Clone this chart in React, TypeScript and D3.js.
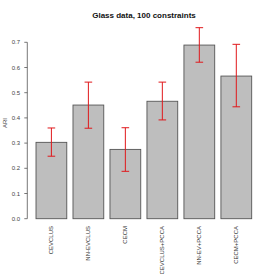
import { useEffect, useRef } from "react";
import * as d3 from "d3";

const categories = ["CEVCLUS", "NN-EVCLUS", "CECM", "CEVCLUS+PCCA", "NN-EV+PCCA", "CECM+PCCA"];
const means = [0.303, 0.451, 0.275, 0.466, 0.689, 0.566];
const lower = [0.248, 0.359, 0.188, 0.392, 0.621, 0.444];
const upper = [0.36, 0.542, 0.361, 0.542, 0.758, 0.692];
const yTicks = [0, 0.1, 0.2, 0.3, 0.4, 0.5, 0.6, 0.7];

export default function App() {
  const svgRef = useRef<SVGSVGElement>(null);
  const width = 274;
  const height = 274;

  useEffect(() => {
    if (!svgRef.current) return;
    const svg = d3.select(svgRef.current);
    svg.selectAll("*").remove();

    const font = "'Liberation Sans', Arial, sans-serif";

    const x = d3
      .scaleBand<string>()
      .domain(categories)
      .range([32.9, 254.8])
      .paddingInner(0.168)
      .paddingOuter(0.084);
    const y = d3.scaleLinear().domain([0, 0.7]).range([218.7, 42.3]);

    // Title
    svg
      .append("text")
      .attr("x", 144)
      .attr("y", 17.5)
      .attr("text-anchor", "middle")
      .attr("font-family", font)
      .attr("font-weight", "bold")
      .attr("font-size", 8)
      .attr("fill", "#111")
      .text("Glass data, 100 constraints");

    // Y axis
    const axisX = 27.3;
    svg
      .append("line")
      .attr("x1", axisX)
      .attr("x2", axisX)
      .attr("y1", y(0))
      .attr("y2", y(0.7))
      .attr("stroke", "#555")
      .attr("stroke-width", 0.8);

    const tick = svg.append("g").selectAll("g").data(yTicks).join("g");
    tick
      .append("line")
      .attr("x1", axisX - 3)
      .attr("x2", axisX)
      .attr("y1", (d) => y(d))
      .attr("y2", (d) => y(d))
      .attr("stroke", "#555")
      .attr("stroke-width", 0.8);
    tick
      .append("text")
      .attr("x", 20)
      .attr("y", (d) => y(d))
      .attr("dy", "0.35em")
      .attr("text-anchor", "end")
      .attr("font-family", font)
      .attr("font-size", 6)
      .attr("fill", "#444")
      .text((d) => d.toFixed(1));

    // Y axis title
    svg
      .append("text")
      .attr("transform", `translate(7,123) rotate(-90)`)
      .attr("text-anchor", "middle")
      .attr("font-family", font)
      .attr("font-size", 6)
      .attr("fill", "#444")
      .text("ARI");

    // Bars
    svg
      .append("g")
      .selectAll("rect")
      .data(categories)
      .join("rect")
      .attr("x", (d) => x(d)!)
      .attr("y", (_, i) => y(means[i]))
      .attr("width", x.bandwidth())
      .attr("height", (_, i) => y(0) - y(means[i]))
      .attr("fill", "#bebebe")
      .attr("stroke", "#555")
      .attr("stroke-width", 0.9);

    // Error bars
    const err = svg.append("g").selectAll("g").data(categories).join("g");
    const cx = (d: string) => x(d)! + x.bandwidth() / 2;
    const capHalf = 3.8;
    err
      .append("line")
      .attr("x1", cx)
      .attr("x2", cx)
      .attr("y1", (_, i) => y(lower[i]))
      .attr("y2", (_, i) => y(upper[i]))
      .attr("stroke", "#e0181b")
      .attr("stroke-width", 1);
    err
      .append("line")
      .attr("x1", (d) => cx(d) - capHalf)
      .attr("x2", (d) => cx(d) + capHalf)
      .attr("y1", (_, i) => y(upper[i]))
      .attr("y2", (_, i) => y(upper[i]))
      .attr("stroke", "#e0181b")
      .attr("stroke-width", 1);
    err
      .append("line")
      .attr("x1", (d) => cx(d) - capHalf)
      .attr("x2", (d) => cx(d) + capHalf)
      .attr("y1", (_, i) => y(lower[i]))
      .attr("y2", (_, i) => y(lower[i]))
      .attr("stroke", "#e0181b")
      .attr("stroke-width", 1);

    // Category labels (rotated, right-aligned to the axis)
    svg
      .append("g")
      .selectAll("text")
      .data(categories)
      .join("text")
      .attr("transform", (d) => `translate(${cx(d) + 2},226) rotate(-90)`)
      .attr("text-anchor", "end")
      .attr("font-family", font)
      .attr("font-size", 6)
      .attr("fill", "#333")
      .text((d) => d);
  }, []);

  return (
    <svg
      ref={svgRef}
      width={width}
      height={height}
      style={{ position: "absolute", left: 0, top: 0, background: "#fff" }}
    />
  );
}
